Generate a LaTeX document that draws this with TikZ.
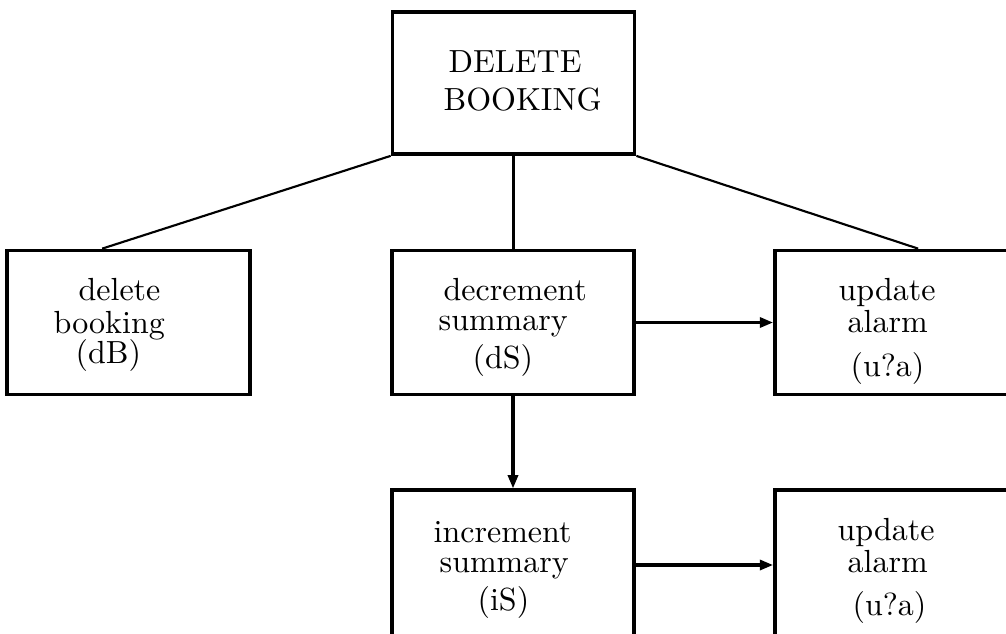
\documentclass[tikz,border=0pt]{standalone}
\usetikzlibrary{arrows.meta,calc}
\begin{document}
\begin{tikzpicture}[x=0.75pt,y=-0.75pt,
  box/.style={draw,line width=2.8pt,rectangle,inner sep=0pt,minimum width=181.5pt,minimum height=108pt},
  lbl/.style={inner sep=0pt,anchor=base west,scale=2.4,font=\fontsize{10}{12}\selectfont},
  tie/.style={line width=1.6pt},
  stem/.style={line width=2.8pt},
  flow/.style={line width=2.4pt,-{Triangle[length=10pt,width=7.5pt]}}]
\useasboundingbox (0,0) rectangle (1006,633);
\clip (0,0) rectangle (1006,633);
% boxes
\node[box,minimum height=106.5pt] (top) at (513.5,83) {};
\node[box,minimum width=182.25pt] (left) at (128.5,322.5) {};
\node[box] (mid) at (513,322.5) {};
\node[box,minimum width=195pt] (right) at (905,322.5) {};
\node[box,minimum height=112pt] (bmid) at (513,565) {};
\node[box,minimum width=195pt,minimum height=112pt] (bright) at (905,565) {};
% texts
\node[lbl] (t1) at (448,72) {DELETE};
\node[lbl] (t2) at (443,110) {BOOKING};
\node[lbl] (l1) at (78,300) {delete};
\node[lbl] (l2) at (53,333) {booking};
\node[lbl] (l3) at (75,363) {(dB)};
\node[lbl] (m1) at (443,300) {decrement};
\node[lbl] (m2) at (438,330) {summary};
\node[lbl] (m3) at (472,368) {(dS)};
\node[lbl] (r1) at (838,300) {update};
\node[lbl] (r2) at (847,332) {alarm};
\node[lbl] (r3) at (850,376) {(u?a)};
\node[lbl] (b1) at (433,542) {increment};
\node[lbl] (b2) at (439,572) {summary};
\node[lbl] (b3) at (477,610) {(iS)};
\node[lbl] (c1) at (837,540) {update};
\node[lbl] (c2) at (847,572) {alarm};
\node[lbl] (c3) at (852,615) {(u?a)};
% connectors
\coordinate (lt) at ($(left.north west)+(97,0)$);
\coordinate (rt) at ($(right.north west)+(145,0)$);
\draw[tie] (top.south west) -- (lt);
\draw[tie] (top.south east) -- (rt);
\draw[stem] (top.south) -- (top.south |- mid.north);
\draw[flow] (mid.east) -- (right.west);
\draw[flow] (mid.south) -- (bmid.north);
\draw[flow] (bmid.east) -- (bright.west);
\end{tikzpicture}
\end{document}
